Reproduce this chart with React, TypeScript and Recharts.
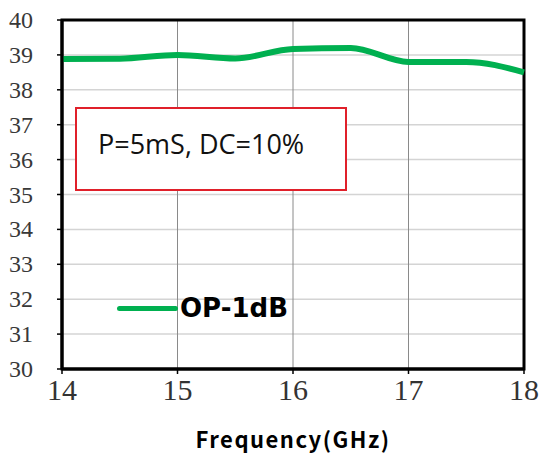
import { LineChart, Line, XAxis, YAxis, CartesianGrid, ReferenceArea } from 'recharts'

const freqs = [14, 14.5, 15, 15.5, 16, 16.5, 17, 17.5, 18]
const op1db = [38.88, 38.89, 39.0, 38.9, 39.17, 39.2, 38.8, 38.8, 38.5]
const xTicks = [14, 15, 16, 17, 18]
const yTicks = [30, 31, 32, 33, 34, 35, 36, 37, 38, 39, 40]

const data = freqs.map((f, i) => ({ freq: f, op: op1db[i] }))

const serif = '"Liberation Serif", "DejaVu Serif", serif'

const renderXTick = ({ x, y, payload }: any) => (
  <text x={x} y={y} dy={22} textAnchor="middle" style={{ fill: '#333', fontSize: 30, fontFamily: serif }}>
    {payload.value}
  </text>
)

const renderYTick = ({ x, y, payload }: any) => (
  <text x={x} y={y} dy={8} textAnchor="end" style={{ fill: '#383838', fontSize: 24, fontFamily: serif }}>
    {payload.value}
  </text>
)

export default function App() {
  return (
    <div style={{ position: 'absolute', left: 0, top: 0, width: 540, height: 455, background: '#fff' }}>
      <LineChart width={540} height={455} data={data} margin={{ top: 20, right: 16, bottom: 0, left: 0 }}>
        <CartesianGrid horizontal vertical={false} stroke="#d4d4d4" strokeWidth={1.5} />
        <CartesianGrid horizontal={false} vertical stroke="#8a8a8a" strokeWidth={1} />
        <XAxis
          dataKey="freq"
          type="number"
          domain={[14, 18]}
          ticks={xTicks}
          height={86}
          tickSize={5}
          tickMargin={4}
          axisLine={{ stroke: '#000', strokeWidth: 3 }}
          tickLine={{ stroke: '#000', strokeWidth: 1.5 }}
          tick={renderXTick}
        />
        <YAxis
          type="number"
          domain={[30, 40]}
          ticks={yTicks}
          width={62}
          tickSize={5}
          tickMargin={24}
          interval={0}
          axisLine={{ stroke: '#000', strokeWidth: 3 }}
          tickLine={{ stroke: '#000', strokeWidth: 1.5 }}
          tick={renderYTick}
        />
        <ReferenceArea x1={14} x2={18} y1={30} y2={40} fill="none" stroke="#000" strokeWidth={3} />
        <Line
          type="monotone"
          dataKey="op"
          name="OP-1dB"
          stroke="#00b050"
          strokeWidth={6}
          dot={false}
          isAnimationActive={false}
        />
      </LineChart>
      <div
        style={{
          position: 'absolute',
          left: 75,
          top: 107,
          width: 272,
          height: 84,
          boxSizing: 'border-box',
          border: '2px solid #e0202a',
          background: '#fff',
          fontFamily: 'Open Sans',
          fontSize: 27,
          lineHeight: '30px',
          color: '#111',
          paddingLeft: 21,
          paddingTop: 20,
        }}
      >
        P=5mS, DC=10%
      </div>
      <div style={{ position: 'absolute', left: 117, top: 293, display: 'flex', alignItems: 'center', height: 30 }}>
        <div style={{ width: 61, height: 5, background: '#00b050', borderRadius: 3 }} />
        <span style={{ fontFamily: 'DejaVu Sans', fontWeight: 'bold', fontSize: 26, color: '#000', marginLeft: 2 }}>
          OP-1dB
        </span>
      </div>
      <div
        style={{
          position: 'absolute',
          left: 0,
          width: 586,
          top: 424,
          textAlign: 'center',
          fontFamily: 'Noto Sans CJK SC',
          fontWeight: 'bold',
          fontSize: 22,
          letterSpacing: 1.5,
          lineHeight: '28px',
          color: '#000',
        }}
      >
        Frequency(GHz)
      </div>
    </div>
  )
}
